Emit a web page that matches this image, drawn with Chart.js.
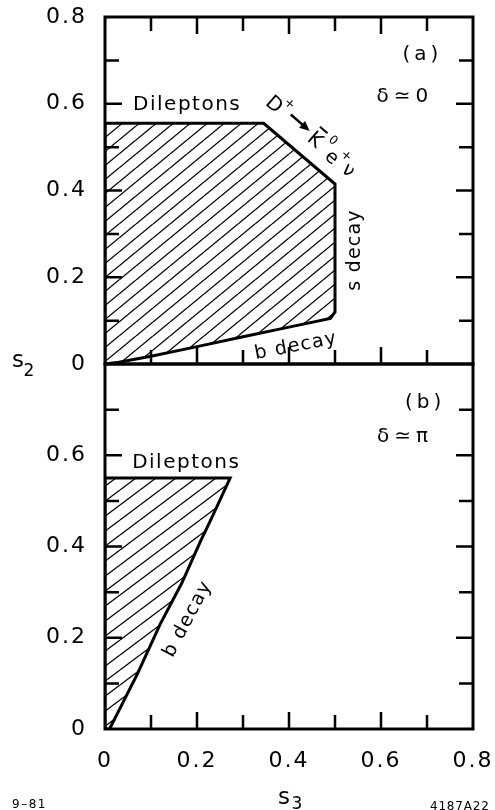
<!DOCTYPE html>
<html>
<head>
<meta charset="utf-8">
<script src="https://cdn.jsdelivr.net/npm/chart.js@4.4.1/dist/chart.umd.min.js"></script>
<style>
  html, body { margin: 0; padding: 0; background: #fff; }
  #wrap { position: relative; width: 495px; height: 810px; overflow: hidden; }
  #panelA { position: absolute; left: 0; top: 0; }
  #panelB { position: absolute; left: 0; top: 340px; }
</style>
</head>
<body>
<div id="wrap">
  <canvas id="panelA" width="495" height="380"></canvas>
  <canvas id="panelB" width="495" height="470"></canvas>
</div>
<script>
// axis ticks
const axisLabels = [0, 0.2, 0.4, 0.6, 0.8];
const axisLabelsB = [0, 0.2, 0.4, 0.6];
const tickSteps = [0.1, 0.2, 0.3, 0.4, 0.5, 0.6, 0.7];
const majorSteps = [0.2, 0.4, 0.6];

// (a) delta ~ 0: allowed region, walked round from the origin
const regionA_s3 = [0, 0.03, 0.1, 0.2, 0.3, 0.4, 0.49, 0.5, 0.5, 0.345, 0, 0];
const regionA_s2 = [0, 0.004, 0.018, 0.04, 0.063, 0.085, 0.105, 0.12, 0.415, 0.555, 0.555, 0];

// (b) delta ~ pi
const regionB_s3 = [0, 0.01, 0.04, 0.07, 0.12, 0.167, 0.207, 0.233, 0.272, 0, 0];
const regionB_s2 = [0, 0, 0.06, 0.12, 0.23, 0.32, 0.41, 0.465, 0.55, 0.55, 0];

Chart.defaults.font.family = '"DejaVu Sans", sans-serif';
Chart.defaults.color = '#000';

const FONT = '"DejaVu Sans", sans-serif';

function hatch(ctx, w, h, lw) {
  const tile = document.createElement('canvas');
  tile.width = w; tile.height = h;
  const g = tile.getContext('2d');
  g.strokeStyle = '#000';
  g.lineWidth = lw;
  [-h, 0, h].forEach(off => {
    g.beginPath();
    g.moveTo(0, h + off);
    g.lineTo(w, off);
    g.stroke();
  });
  return ctx.createPattern(tile, 'repeat');
}

function points(xs, ys) {
  return xs.map((v, i) => ({ x: v, y: ys[i] }));
}

function drawLabel(ctx, text, px, py, o) {
  ctx.save();
  ctx.translate(px, py);
  if (o.rot) ctx.rotate(o.rot * Math.PI / 180);
  ctx.font = (o.size || 20) + 'px ' + FONT;
  ctx.letterSpacing = (o.spacing || 0) + 'px';
  ctx.textAlign = o.align || 'center';
  ctx.textBaseline = 'middle';
  ctx.fillStyle = '#000';
  ctx.fillText(text, 0, 0);
  ctx.restore();
}

// wider spacing for the axis numbers
const spacedTicks = {
  id: 'spacedTicks',
  beforeDraw(chart) { chart.ctx.letterSpacing = '2px'; }
};

// box round the plot with inward tick marks
function frameTicks(sides) {
  return {
    id: 'frameTicks',
    afterDatasetsDraw(chart) {
      const { ctx, chartArea: a, scales: { x, y } } = chart;
      ctx.save();
      ctx.strokeStyle = '#000';
      ctx.lineWidth = 2.5;
      ctx.beginPath();
      tickSteps.forEach(v => {
        const len = majorSteps.includes(v) ? 17 : 14;
        const px = x.getPixelForValue(v);
        const py = y.getPixelForValue(v);
        if (sides.includes('top')) { ctx.moveTo(px, a.top); ctx.lineTo(px, a.top + len); }
        if (sides.includes('bottom')) { ctx.moveTo(px, a.bottom); ctx.lineTo(px, a.bottom - len); }
        ctx.moveTo(a.left, py); ctx.lineTo(a.left + len, py);
        ctx.moveTo(a.right, py); ctx.lineTo(a.right - len, py);
      });
      ctx.stroke();
      ctx.lineWidth = 3;
      ctx.strokeRect(a.left, a.top, a.right - a.left, a.bottom - a.top);
      ctx.restore();
    }
  };
}

function textLayer(notes, extra) {
  return {
    id: 'textLayer',
    afterDraw(chart) {
      const { ctx, scales: { x, y } } = chart;
      notes.forEach(n => drawLabel(ctx, n.text, x.getPixelForValue(n.at[0]), y.getPixelForValue(n.at[1]), n));
      if (extra) extra(chart);
    }
  };
}

// D+ -> K0bar e+ nu, written along the slanted edge
function decayChain(chart) {
  const { ctx, scales: { x, y } } = chart;
  ctx.save();
  ctx.translate(x.getPixelForValue(0.367), y.getPixelForValue(0.597));
  ctx.rotate(41 * Math.PI / 180);
  ctx.fillStyle = '#000';
  ctx.strokeStyle = '#000';
  ctx.letterSpacing = '0px';
  ctx.textAlign = 'center';
  ctx.textBaseline = 'middle';
  const put = (t, u, v, size) => { ctx.font = size + 'px ' + FONT; ctx.fillText(t, u, v); };
  put('D', 0, 0, 20);
  put('+', 11, -11, 13);
  ctx.lineWidth = 2.5;
  ctx.beginPath(); ctx.moveTo(19, -4); ctx.lineTo(36, -4); ctx.stroke();
  ctx.beginPath(); ctx.moveTo(44, -4); ctx.lineTo(34, -8.5); ctx.lineTo(34, 0.5); ctx.closePath(); ctx.fill();
  put('K', 54, 0, 20);
  ctx.lineWidth = 2;
  ctx.beginPath(); ctx.moveTo(49, -14); ctx.lineTo(59, -14); ctx.stroke();
  put('0', 68, -12, 12);
  put('e', 78, 2, 19);
  put('+', 88, -9, 13);
  put('\u03bd', 99, 1, 19);
  ctx.restore();
}

function axisNames(chart) {
  const { ctx, chartArea: a, scales: { x, y } } = chart;
  const top = y.getPixelForValue(0.8);
  drawLabel(ctx, 's', a.left - 87, top - 3, { size: 23 });
  drawLabel(ctx, '2', a.left - 76, top + 8, { size: 17 });
  const mid = x.getPixelForValue(0.4);
  drawLabel(ctx, 's', mid - 5, a.bottom + 69, { size: 23 });
  drawLabel(ctx, '3', mid + 8, a.bottom + 76, { size: 17 });
  drawLabel(ctx, '9\u201381', 12, a.bottom + 76, { size: 12, align: 'left', spacing: 1.5 });
  drawLabel(ctx, '4187A22', a.right - 43, a.bottom + 78, { size: 12, align: 'left', spacing: 0.8 });
}

function yScale(labels) {
  return {
    type: 'linear', min: 0, max: 0.8,
    grid: { display: false, drawTicks: false },
    border: { display: false },
    afterBuildTicks: s => { s.ticks = labels.map(v => ({ value: v })); },
    afterFit: s => { s.width = 105; s.paddingTop = 0; s.paddingBottom = 0; },
    ticks: { padding: 18, font: { size: 22 }, callback: v => String(v) }
  };
}

function regionDataset(xs, ys, pattern) {
  return {
    data: points(xs, ys),
    borderColor: '#000',
    borderWidth: 3,
    borderJoinStyle: 'miter',
    borderCapStyle: 'round',
    backgroundColor: pattern,
    fill: 'shape',
    pointRadius: 0,
    tension: 0
  };
}

const ctxA = document.getElementById('panelA').getContext('2d');
new Chart(ctxA, {
  type: 'line',
  data: { datasets: [regionDataset(regionA_s3, regionA_s2, hatch(ctxA, 17, 14, 1.3))] },
  options: {
    responsive: false,
    devicePixelRatio: 1,
    animation: false,
    events: [],
    layout: { padding: { left: 0, right: 22, top: 17, bottom: 16 } },
    plugins: { legend: { display: false }, tooltip: { enabled: false } },
    scales: {
      x: { type: 'linear', min: 0, max: 0.8, display: false },
      y: yScale(axisLabels)
    }
  },
  plugins: [
    spacedTicks,
    frameTicks(['top', 'bottom']),
    textLayer([
      { text: 'Dileptons', at: [0.061, 0.597], align: 'left', size: 20, spacing: 1.5 },
      { text: '(a)', at: [0.69, 0.712], size: 20, spacing: 4 },
      { text: '\u03b4\u22430', at: [0.652, 0.617], size: 20, spacing: 5 },
      { text: 's decay', at: [0.543, 0.263], rot: -90, size: 19, spacing: 1.2 },
      { text: 'b decay', at: [0.415, 0.041], rot: -11, size: 19, spacing: 1.2 }
    ], decayChain)
  ]
});

const ctxB = document.getElementById('panelB').getContext('2d');
new Chart(ctxB, {
  type: 'line',
  data: { datasets: [regionDataset(regionB_s3, regionB_s2, hatch(ctxB, 20, 15, 1.3))] },
  options: {
    responsive: false,
    devicePixelRatio: 1,
    animation: false,
    events: [],
    layout: { padding: { left: 0, right: 22, top: 24, bottom: 0 } },
    plugins: { legend: { display: false }, tooltip: { enabled: false } },
    scales: {
      x: {
        type: 'linear', min: 0, max: 0.8,
        grid: { display: false, drawTicks: false },
        border: { display: false },
        afterBuildTicks: s => { s.ticks = axisLabels.map(v => ({ value: v })); },
        afterFit: s => { s.height = 81; s.paddingLeft = 0; s.paddingRight = 0; },
        ticks: { padding: 19, font: { size: 22 }, maxRotation: 0, autoSkip: false, callback: v => String(v) }
      },
      y: yScale(axisLabelsB)
    }
  },
  plugins: [
    spacedTicks,
    frameTicks(['bottom']),
    textLayer([
      { text: 'Dileptons', at: [0.059, 0.583], align: 'left', size: 20, spacing: 1.5 },
      { text: '(b)', at: [0.696, 0.715], size: 20, spacing: 4 },
      { text: '\u03b4\u2243\u03c0', at: [0.652, 0.641], size: 20, spacing: 5 },
      { text: 'b decay', at: [0.18, 0.241], rot: -62, size: 19, spacing: 1.2 }
    ], axisNames)
  ]
});
</script>
</body>
</html>
